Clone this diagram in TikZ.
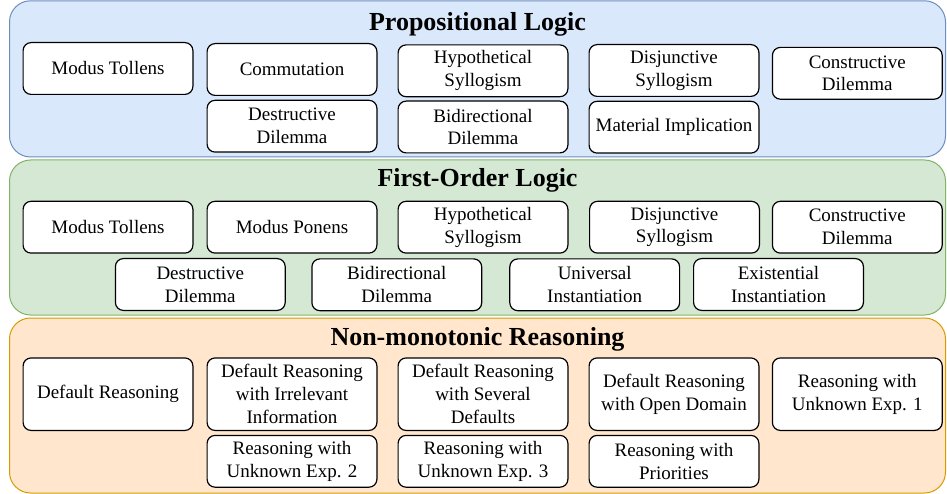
\documentclass[tikz,border=0pt]{standalone}
\usepackage{fontspec}
\setmainfont{Liberation Serif}
\newfontfamily\bodyfont{Liberation Serif}
\definecolor{bluefill}{HTML}{DAE8FC}
\definecolor{bluedraw}{HTML}{6C8EBF}
\definecolor{greenfill}{HTML}{D5E8D4}
\definecolor{greendraw}{HTML}{82B366}
\definecolor{orangefill}{HTML}{FFE6CC}
\definecolor{orangedraw}{HTML}{D79B00}
\tikzset{
  panel/.style={line width=1pt, rounded corners=21pt},
  ptitle/.style={anchor=base, font=\bodyfont\fontsize{26}{30}\selectfont\bfseries, inner sep=0pt},
  rulebox/.style={draw=black, fill=white, line width=1.2pt, rounded corners=8pt,
    minimum width=169.8pt, minimum height=51.8pt, inner sep=1pt, align=center,
    font=\bodyfont\fontsize{19}{22.8}\selectfont},
  tallbox/.style={rulebox, minimum height=72.5pt}
}
\begin{document}
\begin{tikzpicture}[x=1pt,y=-1pt]
\useasboundingbox (0,0) rectangle (947,494);
% panels
\draw[panel, draw=bluedraw, fill=bluefill] (9.5,0.8) rectangle (945.5,157);
\draw[panel, draw=greendraw, fill=greenfill] (9.5,160) rectangle (945.5,315);
\draw[panel, draw=orangedraw, fill=orangefill] (9.5,318) rectangle (945.5,493);
\node[ptitle] (t1) at (477.5,31) {Propositional Logic};
\node[ptitle] (t2) at (477.5,187) {First-Order Logic};
\node[ptitle] (t3) at (477.5,345) {Non-monotonic Reasoning};
% Propositional logic
\node[rulebox] (a1) at (108,68.5) {Modus Tollens};
\node[rulebox] (a2) at (292,69.5) {Commutation};
\node[rulebox] (a3) at (483,70.8) {Hypothetical\\Syllogism};
\node[rulebox] (a4) at (674,70.5) {Disjunctive\\Syllogism};
\node[rulebox] (a5) at (857.3,73.3) {Constructive\\Dilemma};
\node[rulebox] (a6) at (292,126.2) {Destructive\\Dilemma};
\node[rulebox] (a7) at (483,127) {Bidirectional\\Dilemma};
\node[rulebox] (a8) at (674,127.2) {Material Implication};
% First-order logic
\node[rulebox] (b1) at (108,227.2) {Modus Tollens};
\node[rulebox] (b2) at (292,227.2) {Modus Ponens};
\node[rulebox] (b3) at (483,227.2) {Hypothetical\\Syllogism};
\node[rulebox] (b4) at (674.5,227.2) {Disjunctive\\Syllogism};
\node[rulebox] (b5) at (857.3,227.2) {Constructive\\Dilemma};
\node[rulebox] (b6) at (200.3,284.5) {Destructive\\Dilemma};
\node[rulebox] (b7) at (396.8,284.8) {Bidirectional\\Dilemma};
\node[rulebox] (b8) at (594.7,284.8) {Universal\\Instantiation};
\node[rulebox] (b9) at (778.5,284.5) {Existential\\Instantiation};
% Non-monotonic reasoning
\node[tallbox] (c1) at (108,394.2) {Default Reasoning};
\node[tallbox] (c2) at (292,394.2) {Default Reasoning\\with Irrelevant\\Information};
\node[tallbox] (c3) at (483,394.2) {Default Reasoning\\with Several\\Defaults};
\node[tallbox] (c4) at (674,394.2) {Default Reasoning\\with Open Domain};
\node[tallbox] (c5) at (857.3,394.2) {Reasoning with\\Unknown Exp. 1};
\node[rulebox] (c6) at (292,461.3) {Reasoning with\\Unknown Exp. 2};
\node[rulebox] (c7) at (483,461.3) {Reasoning with\\Unknown Exp. 3};
\node[rulebox] (c8) at (674,461.3) {Reasoning with\\Priorities};
\end{tikzpicture}
\end{document}
